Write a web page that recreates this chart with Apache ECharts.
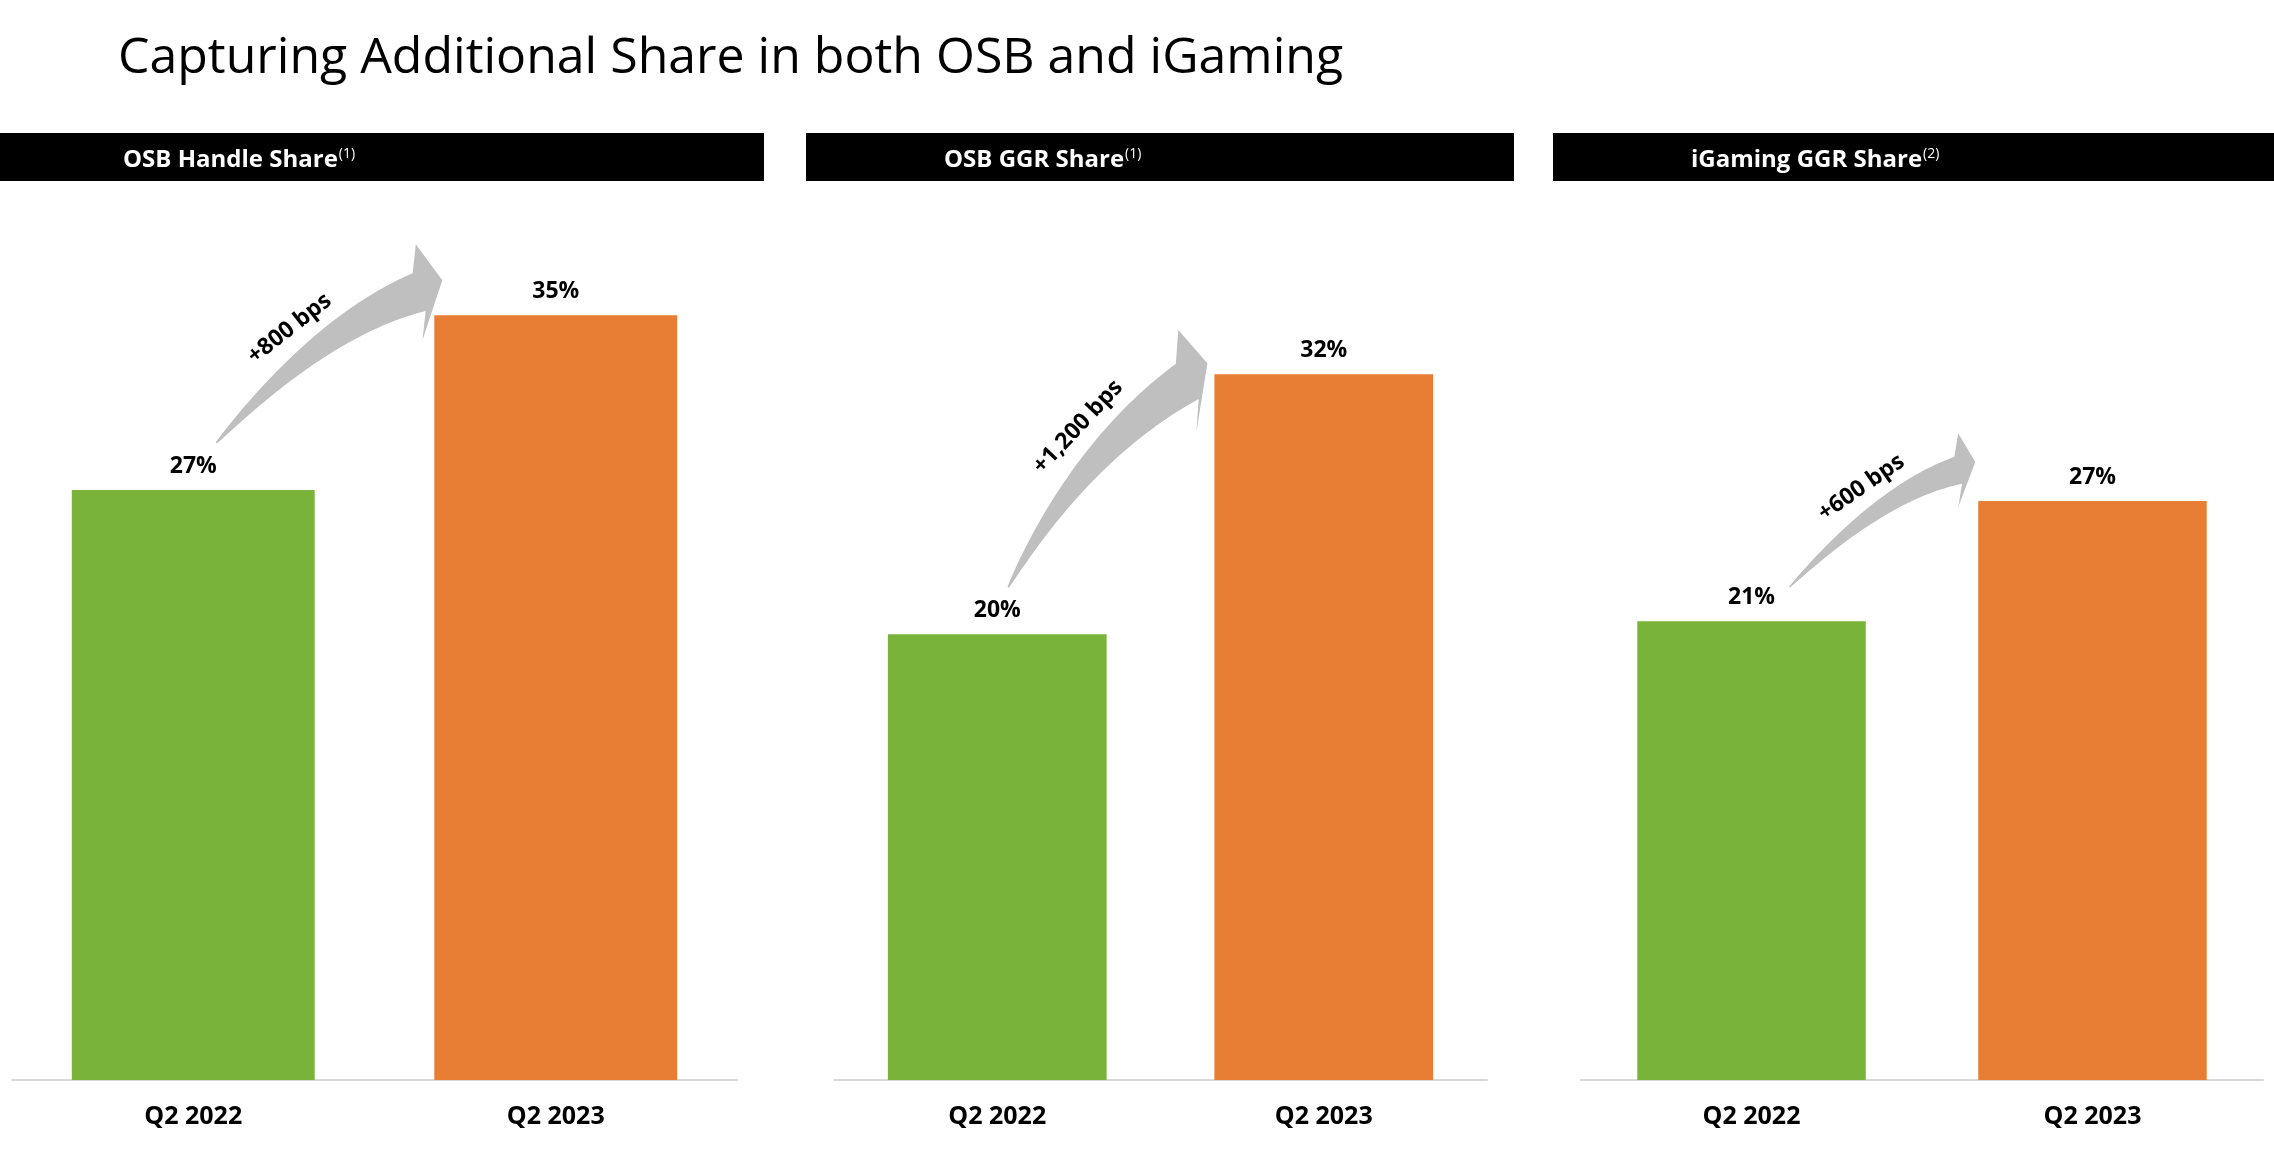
<!DOCTYPE html>
<html><head><meta charset="utf-8">
<script src="https://cdn.jsdelivr.net/npm/echarts@6/dist/echarts.min.js"></script>
<style>html,body{margin:0;padding:0;background:#fff}#c{width:2274px;height:1176px}</style>
</head><body><div id="c"></div><script>
// ---- data ----
const chartTitle = 'Capturing Additional Share in both OSB and iGaming';
const categories = ['Q2 2022', 'Q2 2023'];
const panelTitles = ['OSB Handle Share', 'OSB GGR Share', 'iGaming GGR Share'];
const panelNotes = ['(1)', '(1)', '(2)'];
const osbHandleShare = [27.0, 35.0];
const osbGgrShare = [20.4, 32.3];
const igamingGgrShare = [21.0, 26.5];
const changeLabels = ['+800 bps', '+1,200 bps', '+600 bps'];

// ---- styles / layout ----
const FONT = 'Open Sans';
const GREEN = '#7AB33A', ORANGE = '#E87D34', ARROW = '#BFBFBF';
const panels = [osbHandleShare, osbGgrShare, igamingGgrShare];
const gridLayout = [{left: 12, width: 725}, {left: 834, width: 653}, {left: 1581, width: 682}];
const headerLayout = [{x: 0, w: 764, tx: 123}, {x: 806, w: 708, tx: 944}, {x: 1553, w: 721, tx: 1691}];
const arrowStyle = [
  {tail: [23, -47], tailAng: 48, tip: [8, -35], tipAng: 27, headLen: 26, endAng: 19, baseAng: 4, body: 20, head: 48, lt: 0.45, lo: 22},
  {tail: [11, -47], tailAng: 62, tip: [-7, -11], tipAng: 42, headLen: 27, endAng: 33, baseAng: 10, body: 21, head: 52, lt: 0.58, lo: 22},
  {tail: [38, -34], tailAng: 46, tip: [-3, -39], tipAng: 26, headLen: 19, endAng: 16, baseAng: 0, body: 14, head: 37, lt: 0.5, lo: 20}
];

const chart = echarts.init(document.getElementById('c'), null, {renderer: 'canvas'});
const grids = [], xAxes = [], yAxes = [], series = [];
panels.forEach((vals, i) => {
  grids.push({left: gridLayout[i].left, width: gridLayout[i].width, top: 206, bottom: 96});
  xAxes.push({type: 'category', gridIndex: i, data: categories,
    axisLine: {show: true, lineStyle: {color: '#D9D9D9', width: 2}}, axisTick: {show: false},
    axisLabel: {fontFamily: FONT, fontWeight: 'bold', fontSize: 25, color: '#000', margin: 24}});
  yAxes.push({type: 'value', gridIndex: i, min: 0, max: 40, show: false, splitLine: {show: false}});
  series.push({type: 'bar', xAxisIndex: i, yAxisIndex: i, barWidth: '67%', silent: true,
    data: vals.map((v, j) => ({value: v, itemStyle: {color: j === 0 ? GREEN : ORANGE}})),
    label: {show: true, position: 'top', distance: 12, formatter: p => Math.round(p.value) + '%',
      fontFamily: FONT, fontWeight: 'bold', fontSize: 23, color: '#000'}});
});

chart.setOption({
  backgroundColor: '#fff', animation: false,
  title: {text: chartTitle, left: 113, top: 29, textStyle: {fontFamily: FONT, fontWeight: 'normal', fontSize: 50, color: '#000'}},
  grid: grids, xAxis: xAxes, yAxis: yAxes, series: series
});

function rad(d) { return d * Math.PI / 180; }
function buildArrow(T, st, B, tip) {
  const d1 = [Math.cos(rad(st.tailAng)), -Math.sin(rad(st.tailAng))];
  const d2 = [Math.cos(rad(st.endAng)), -Math.sin(rad(st.endAng))];
  const det = d1[0] * d2[1] - d1[1] * d2[0];
  const rx = B[0] - T[0], ry = B[1] - T[1];
  const s = (rx * d2[1] - ry * d2[0]) / det;
  const C = [T[0] + s * d1[0], T[1] + s * d1[1]];
  const N = 48, up = [], lo = [];
  const pt = t => [(1 - t) * (1 - t) * T[0] + 2 * t * (1 - t) * C[0] + t * t * B[0], (1 - t) * (1 - t) * T[1] + 2 * t * (1 - t) * C[1] + t * t * B[1]];
  const tan = t => { const dx = 2 * (1 - t) * (C[0] - T[0]) + 2 * t * (B[0] - C[0]); const dy = 2 * (1 - t) * (C[1] - T[1]) + 2 * t * (B[1] - C[1]); const l = Math.hypot(dx, dy); return [dx / l, dy / l]; };
  const wAt = t => st.body * (0.04 + 0.96 * Math.pow(t, 0.85));
  for (let k = 0; k <= N; k++) {
    const t = k / N, p = pt(t), d = tan(t), n = [d[1], -d[0]], w = wAt(t);
    up.push([p[0] + w * n[0], p[1] + w * n[1]]);
    lo.push([p[0] - w * n[0], p[1] - w * n[1]]);
  }
  const nb = [-Math.sin(rad(st.baseAng)), -Math.cos(rad(st.baseAng))];
  const hu = [B[0] + st.head * nb[0], B[1] + st.head * nb[1]];
  const hl = [B[0] - st.head * nb[0], B[1] - st.head * nb[1]];
  const pts = up.concat([hu, tip, hl]).concat(lo.reverse());
  const lp = pt(st.lt), ld = tan(st.lt), ln = [ld[1], -ld[0]], lw = wAt(st.lt) + st.lo;
  return {pts, label: [lp[0] + lw * ln[0], lp[1] + lw * ln[1]], angle: Math.atan2(-ld[1], ld[0])};
}

const graphic = [];
panels.forEach((vals, i) => {
  const h = headerLayout[i];
  graphic.push({type: 'rect', silent: true, shape: {x: h.x, y: 133, width: h.w, height: 48}, style: {fill: '#000'}});
  graphic.push({type: 'text', silent: true, x: h.tx, y: 160, style: {
    text: '{a|' + panelTitles[i] + '}{s|' + panelNotes[i] + '}', verticalAlign: 'middle', align: 'left',
    rich: {a: {fontFamily: FONT, fontWeight: 'bold', fontSize: 24, fill: '#fff', verticalAlign: 'bottom'},
           s: {fontFamily: FONT, fontSize: 14, fill: '#fff', padding: [0, 0, 11, 1], verticalAlign: 'bottom'}}}});
  const g = chart.convertToPixel({seriesIndex: i}, [0, vals[0]]);
  const o2 = chart.convertToPixel({seriesIndex: i}, [1, vals[1]]);
  const band = o2[0] - g[0];
  const o = [o2[0] - band * 0.67 / 2, o2[1]];
  const st = arrowStyle[i];
  const T = [g[0] + st.tail[0], g[1] + st.tail[1]];
  const tip = [o[0] + st.tip[0], o[1] + st.tip[1]];
  const B = [tip[0] - st.headLen * Math.cos(rad(st.tipAng)), tip[1] + st.headLen * Math.sin(rad(st.tipAng))];
  const a = buildArrow(T, st, B, tip);
  graphic.push({type: 'polygon', silent: true, shape: {points: a.pts}, style: {fill: ARROW}});
  graphic.push({type: 'text', silent: true, x: a.label[0], y: a.label[1], rotation: a.angle, style: {
    text: changeLabels[i], fontFamily: FONT, fontWeight: 'bold', fontSize: 23, fill: '#000', align: 'center', verticalAlign: 'middle'}});
});
chart.setOption({graphic: graphic});
</script></body></html>
